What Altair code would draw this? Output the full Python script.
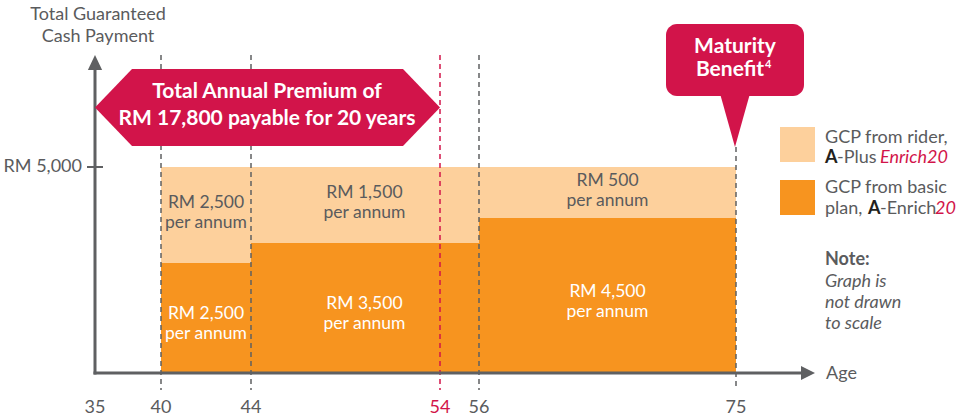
import altair as alt
import pandas as pd
import numpy as np

# ---------------- data ----------------
seg_start = [40, 44, 56]
seg_end = [44, 56, 75]
basic_gcp = [2500, 3500, 4500]
rider_gcp = [2500, 1500, 500]
age_ticks = [35, 40, 44, 54, 56, 75]
y_ticks = [5000]

# ---------------- layout (graph is not drawn to scale) ----------------
X_DOMAIN = [35, 40, 44, 54, 56, 75]
X_RANGE = [95, 161, 251, 440, 479, 736]
Y_DOMAIN = [0, 2500, 3500, 4500, 5000]
Y_RANGE = [373, 263, 243, 218, 167]

FONT = "Lato"
PEACH = "#FDD09C"
ORANGE = "#F7941F"
CRIMSON = "#D2144A"
AXIS = "#5F6062"
GRAY = "#5A5B5D"
DARK = "#231F20"

xs = alt.Scale(type="linear", domain=X_DOMAIN, range=X_RANGE, nice=False, zero=False)
ys = alt.Scale(type="linear", domain=Y_DOMAIN, range=Y_RANGE, nice=False, zero=False)


def X(f):
    return alt.X(f, type="quantitative", scale=xs, axis=None)


def Y(f):
    return alt.Y(f, type="quantitative", scale=ys, axis=None)


def to_px(v):
    return float(np.interp(v, Y_DOMAIN, Y_RANGE))


def from_px(p):
    return float(np.interp(p, Y_RANGE[::-1], Y_DOMAIN[::-1]))


seg = pd.DataFrame({"start": seg_start, "end": seg_end, "basic": basic_gcp, "rider": rider_gcp})
seg["total"] = seg["basic"] + seg["rider"]
seg["zero"] = 0

# label anchors: first text line placed just above the centre of each block
LH = 20
lab_rows = []
for s, e, b, r in zip(seg_start, seg_end, basic_gcp, rider_gcp):
    mid_age = (s + e) / 2
    ytop = from_px((to_px(b) + to_px(b + r)) / 2 - LH / 2 - 2)
    ybot = from_px((to_px(0) + to_px(b)) / 2 - LH / 2 + 6)
    lab_rows.append({"mid": mid_age, "y": ytop, "t": f"RM {r:,}", "k": "rider"})
    lab_rows.append({"mid": mid_age, "y": ybot, "t": f"RM {b:,}", "k": "basic"})
labels = pd.DataFrame(lab_rows)

ticks_df = pd.DataFrame({"age": age_ticks})
ytick_df = pd.DataFrame({"v": y_ticks})
one = alt.Data(values=[{}])


def txt(text, x, y, size=18, color=GRAY, weight="normal", style="normal",
        align="left", baseline="middle"):
    return alt.Chart(one).mark_text(text=text, fontSize=size, color=color, fontWeight=weight,
                                    fontStyle=style, align=align, baseline=baseline,
                                    font=FONT).encode(x=alt.value(x), y=alt.value(y))


def shape(path, x, y, size, color):
    return alt.Chart(one).mark_point(shape=path, filled=True, opacity=1, color=color,
                                     strokeWidth=0, size=size).encode(x=alt.value(x), y=alt.value(y))


peach = alt.Chart(seg).mark_rect(color=PEACH).encode(x=X("start"), x2="end", y=Y("basic"), y2="total")
orange = alt.Chart(seg).mark_rect(color=ORANGE).encode(x=X("start"), x2="end", y=Y("zero"), y2="basic")

lab_color = alt.condition("datum.k == 'basic'", alt.value("white"), alt.value(GRAY))
inner1 = alt.Chart(labels).mark_text(font=FONT, fontSize=17.5, align="center", baseline="middle").encode(
    x=X("mid"), y=Y("y"), text="t:N", color=lab_color)
inner2 = alt.Chart(labels).mark_text(font=FONT, fontSize=17.5, align="center", baseline="middle",
                                     dy=LH, text="per annum").encode(
    x=X("mid"), y=Y("y"), color=lab_color)

dash_gray = alt.Chart(ticks_df).transform_filter(
    "datum.age == 40 || datum.age == 44 || datum.age == 56").mark_rule(
    color=AXIS, strokeWidth=1.5, strokeDash=[5, 4]).encode(x=X("age"), y=alt.value(55), y2=alt.value(390))
dash_red = alt.Chart(ticks_df).transform_filter("datum.age == 54").mark_rule(
    color=CRIMSON, strokeWidth=1.5, strokeDash=[5, 4]).encode(x=X("age"), y=alt.value(55), y2=alt.value(390))
dash_75 = alt.Chart(ticks_df).transform_filter("datum.age == 75").mark_rule(
    color=AXIS, strokeWidth=1.5, strokeDash=[5, 4]).encode(x=X("age"), y=alt.value(147), y2=alt.value(390))

# axes
v_axis = alt.Chart(one).mark_rule(color=AXIS, strokeWidth=3).encode(
    x=alt.value(95), y=alt.value(374.5), y2=alt.value(68))
h_axis = alt.Chart(one).mark_rule(color=AXIS, strokeWidth=3).encode(
    x=alt.value(93.5), x2=alt.value(803), y=alt.value(373))
up_arrow = shape("M 0 -1 L -0.95 1 L 0.95 1 Z", 95, 62.5, 225, AXIS)
right_arrow = shape("M 1 0 L -1 -1 L -1 1 Z", 808, 373, 196, AXIS)

y_tick = alt.Chart(ytick_df).mark_rule(color=AXIS, strokeWidth=2).encode(
    y=Y("v"), x=alt.value(87), x2=alt.value(103))
y_tick_lab = alt.Chart(ytick_df).transform_calculate(
    lab="'RM ' + format(datum.v, ',')").mark_text(
    font=FONT, fontSize=18, color=GRAY, align="right", baseline="middle").encode(
    y=Y("v"), x=alt.value(82), text="lab:N")

x_tick_lab = alt.Chart(ticks_df).mark_text(
    font=FONT, fontSize=18, align="center", baseline="middle").encode(
    x=X("age"), y=alt.value(408), text="age:Q",
    color=alt.condition("datum.age == 54", alt.value(CRIMSON), alt.value(GRAY)))

# banner
hexpath = "M -1 0 L -0.7855 -0.2232 L 0.7855 -0.2232 L 1 0 L 0.7855 0.2232 L -0.7855 0.2232 Z"
banner = shape(hexpath, 267.5, 107.5, 345 * 345, CRIMSON)
banner_t1 = txt("Total Annual Premium of", 267, 92, size=21, color="white", weight="bold", align="center")
banner_t2 = txt("RM 17,800 payable for 20 years", 267, 119, size=21, color="white", weight="bold",
                align="center")

# maturity callout
call_rect = alt.Chart(one).mark_rect(color=CRIMSON, cornerRadius=11).encode(
    x=alt.value(666), x2=alt.value(804), y=alt.value(24), y2=alt.value(96))
call_tri = shape("M -0.294 -0.05 L 0.294 -0.05 L 0 1 Z", 735, 96, 102 * 102, CRIMSON)
call_t1 = txt("Maturity", 735, 47, size=21, color="white", weight="bold", align="center")
call_t2 = txt("Benefit", 730, 70, size=21, color="white", weight="bold", align="center")
call_t3 = txt("4", 765, 65, size=11, color="white", weight="bold")

# titles
ytitle1 = txt("Total Guaranteed", 98, 15, align="center")
ytitle2 = txt("Cash Payment", 98, 37, align="center")
age_lab = txt("Age", 826, 374)

# legend
leg_sq1 = alt.Chart(one).mark_rect(color=PEACH).encode(
    x=alt.value(780), x2=alt.value(815), y=alt.value(127), y2=alt.value(162))
leg_sq2 = alt.Chart(one).mark_rect(color=ORANGE).encode(
    x=alt.value(780), x2=alt.value(815), y=alt.value(180), y2=alt.value(215))
legend = [
    txt("GCP from rider,", 825, 138),
    txt("A", 825, 158, color=DARK, weight="bold"),
    txt("-Plus", 837, 158),
    txt("Enrich20", 880, 158, color=CRIMSON, style="italic"),
    txt("GCP from basic", 825, 188),
    txt("plan,", 825, 209),
    txt("A", 868, 209, color=DARK, weight="bold"),
    txt("-Enrich", 880, 209),
    txt("20", 935, 209, color=CRIMSON, style="italic"),
    txt("Note:", 825, 260, weight="bold"),
    txt("Graph is", 825, 282, style="italic"),
    txt("not drawn", 825, 303, style="italic"),
    txt("to scale", 825, 324, style="italic"),
]

chart = alt.layer(
    peach, orange, inner1, inner2, dash_gray, dash_red, dash_75,
    v_axis, h_axis, up_arrow, right_arrow, y_tick, y_tick_lab, x_tick_lab,
    banner, banner_t1, banner_t2, call_rect, call_tri, call_t1, call_t2, call_t3,
    ytitle1, ytitle2, age_lab, leg_sq1, leg_sq2, *legend,
).properties(
    width=976, height=418, padding=0, autosize="none", background="white"
).configure_view(stroke=None)

chart.save("out.html", embed_options={"renderer": "svg", "actions": False})
